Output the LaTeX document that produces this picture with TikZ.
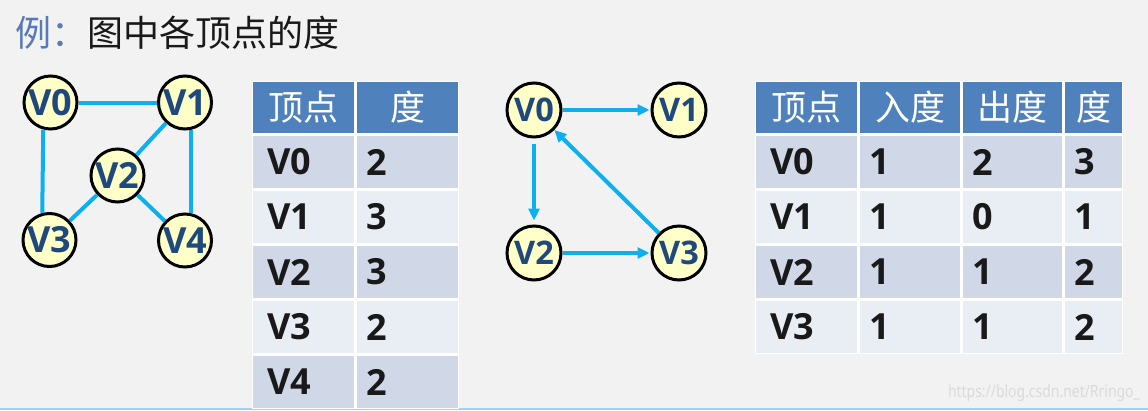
\documentclass[tikz,border=0pt]{standalone}
\usepackage{fontspec}
\usepackage{graphicx}
\setmainfont{Noto Sans}
\newfontfamily\cjk{Noto Sans CJK SC}
\newfontfamily\latb{Open Sans}
\usetikzlibrary{arrows.meta}
\definecolor{bgc}{RGB}{242,242,242}
\definecolor{titleblue}{RGB}{88,122,182}
\definecolor{titleblack}{RGB}{25,25,25}
\definecolor{vfill}{RGB}{255,255,200}
\definecolor{vtext}{RGB}{31,73,125}
\definecolor{ecol}{RGB}{12,176,238}
\definecolor{hdr}{RGB}{79,129,189}
\definecolor{rowdark}{RGB}{208,216,232}
\definecolor{rowlight}{RGB}{233,237,244}
\definecolor{wmcol}{RGB}{218,218,218}
\definecolor{bline}{RGB}{165,207,240}
\newcommand{\hcell}[6]{%
  \node[hcellst, minimum width={#4-#2}, minimum height={#5-#3}] (#1) at ({(#2+#4)/2},{(#3+#5)/2}) {#6};}
\newcommand{\dcell}[8]{%
  \node[dcellst, fill=#6, minimum width={#4-#2}, minimum height={#5-#3}] (#1) at ({(#2+#4)/2},{(#3+#5)/2}) {};
  \node[dtext, anchor=west] (#1t) at ([xshift=#8pt]#1.west) {#7};}
\tikzset{
  vtx/.style={circle, draw=black, line width=3pt, fill=vfill, minimum size=53pt, inner sep=0pt, text=vtext, font=\latb\bfseries\fontsize{36}{40}\selectfont},
  vtxr/.style={vtx, minimum size=54pt, font=\latb\bfseries\fontsize{32.5}{36}\selectfont},
  edg/.style={draw=ecol, line width=4pt},
  arr/.style={edg, -{Triangle[length=12pt,width=11pt]}},
  hcellst/.style={rectangle, fill=hdr, inner sep=0pt, text=white, font=\cjk\fontsize{35}{40}\selectfont},
  dcellst/.style={rectangle, inner sep=0pt},
  dtext/.style={inner sep=0pt, text=titleblack, font=\latb\bfseries\fontsize{36}{40}\selectfont},
}
\begin{document}
\begin{tikzpicture}[x=1pt,y=-1pt]
\useasboundingbox (0,0) rectangle (1148,410);
\fill[bgc] (0,0) rectangle (1148,410);
\fill[bline] (0,407.5) rectangle (1148,410);
% title
\node[anchor=base west, inner sep=0pt, font=\cjk\fontsize{36}{40}\selectfont] (title) at (15,46) {\textcolor{titleblue}{例：}\textcolor{titleblack}{图中各顶点的度}};
% left graph
\node[vtx] (A0) at (50.5,102.5) {V0};
\node[vtx] (A1) at (185,102.5) {V1};
\node[vtx] (A2) at (117.5,175.5) {V2};
\node[vtx] (A3) at (49.5,240) {V3};
\node[vtx] (A4) at (185,240.5) {V4};
\draw[edg] (A0) -- (A1);
\draw[edg] (A0.255) -- (A3.105);
\draw[edg] (A1.-77) -- (A4.77);
\draw[edg] (A1) -- (A2);
\draw[edg] (A2) -- (A3);
\draw[edg] (A2) -- (A4);
% table 1
\fill[white] (252,81) rectangle (459,409);
\hcell{ha}{253}{82}{354}{133}{顶点}
\hcell{hb}{357}{82}{458}{133}{度}
\dcell{a0}{253}{136}{354}{188}{rowdark}{V0}{14}
\dcell{b0}{357}{136}{458}{188}{rowdark}{2}{9}
\dcell{a1}{253}{191}{354}{243}{rowlight}{V1}{14}
\dcell{b1}{357}{191}{458}{243}{rowlight}{3}{9}
\dcell{a2}{253}{246}{354}{298}{rowdark}{V2}{14}
\dcell{b2}{357}{246}{458}{298}{rowdark}{3}{9}
\dcell{a3}{253}{301}{354}{353}{rowlight}{V3}{14}
\dcell{b3}{357}{301}{458}{353}{rowlight}{2}{9}
\dcell{a4}{253}{356}{354}{408}{rowdark}{V4}{14}
\dcell{b4}{357}{356}{458}{408}{rowdark}{2}{9}
% right graph
\node[vtxr] (B0) at (534,110) {V0};
\node[vtxr] (B1) at (679,110) {V1};
\node[vtxr] (B2) at (534,253) {V2};
\node[vtxr] (B3) at (679,253) {V3};
\draw[arr, shorten >=1pt] (B0) -- (B1);
\draw[arr, shorten <=5pt, shorten >=4pt] (B0) -- (B2);
\draw[arr, shorten >=1pt] (B2) -- (B3);
\draw[arr] (B3) -- (B0);
% table 2
\fill[white] (755,81) rectangle (1123,354);
\hcell{hc}{756}{82}{857}{133}{顶点}
\hcell{hd}{860}{82}{960}{133}{入度}
\hcell{he}{963}{82}{1062}{133}{出度}
\hcell{hf}{1065}{82}{1122}{133}{度}
\dcell{c0}{756}{136}{857}{188}{rowdark}{V0}{14}
\dcell{d0}{860}{136}{960}{188}{rowdark}{1}{9}
\dcell{e0}{963}{136}{1062}{188}{rowdark}{2}{9}
\dcell{f0}{1065}{136}{1122}{188}{rowdark}{3}{9}
\dcell{c1}{756}{191}{857}{243}{rowlight}{V1}{14}
\dcell{d1}{860}{191}{960}{243}{rowlight}{1}{9}
\dcell{e1}{963}{191}{1062}{243}{rowlight}{0}{9}
\dcell{f1}{1065}{191}{1122}{243}{rowlight}{1}{9}
\dcell{c2}{756}{246}{857}{298}{rowdark}{V2}{14}
\dcell{d2}{860}{246}{960}{298}{rowdark}{1}{9}
\dcell{e2}{963}{246}{1062}{298}{rowdark}{1}{9}
\dcell{f2}{1065}{246}{1122}{298}{rowdark}{2}{9}
\dcell{c3}{756}{301}{857}{353}{rowlight}{V3}{14}
\dcell{d3}{860}{301}{960}{353}{rowlight}{1}{9}
\dcell{e3}{963}{301}{1062}{353}{rowlight}{1}{9}
\dcell{f3}{1065}{301}{1122}{353}{rowlight}{2}{9}
% watermark
\node[anchor=base east, inner sep=0pt, text=wmcol, font=\fontsize{17}{20}\selectfont] (wm) at (1140,397) {\scalebox{0.82}[1]{https://blog.csdn.net/Rringo\_}};
\end{tikzpicture}
\end{document}
